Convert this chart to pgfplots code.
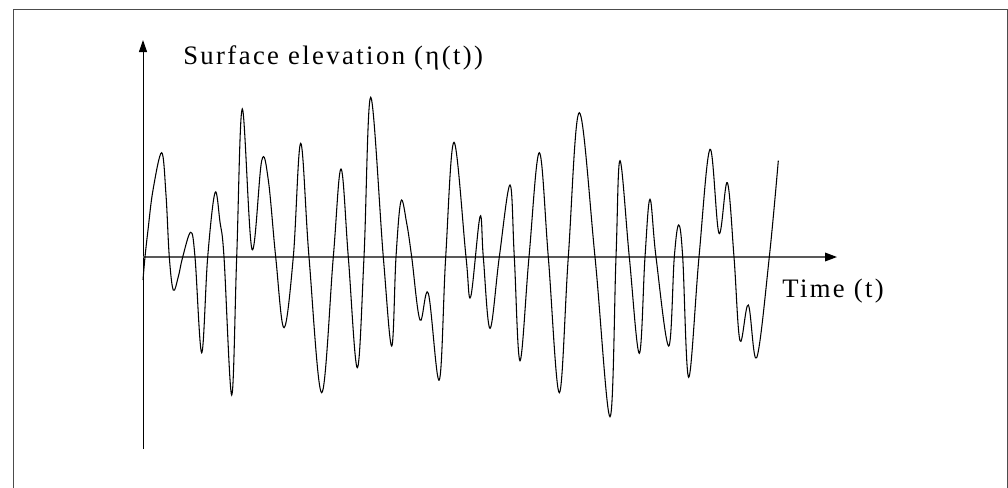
\documentclass[border=0pt]{standalone}
\usepackage{fontspec}
\setmainfont{Liberation Serif}
\newfontfamily\lsfont[LetterSpace=9]{Liberation Serif}
\usepackage{pgfplots}
\pgfplotsset{compat=1.18}
\usetikzlibrary{arrows.meta}
\begin{document}
\begin{tikzpicture}
\begin{axis}[
  width=756pt, height=365.25pt, scale only axis,
  xmin=0, xmax=1008, ymin=0, ymax=487, y dir=reverse,
  hide axis, clip=true,
]
% frame
\addplot[black!70, line width=0.75pt] coordinates {(13,495) (13,9) (1007,9) (1007,495)};
% vertical axis
\addplot[black, line width=0.75pt, -{Triangle[length=9pt,width=6pt]}] coordinates {(143,449) (143,40)};
% horizontal axis
\addplot[black!65, line width=1pt, -{Triangle[length=9pt,width=6.5pt,color=black]}] coordinates {(143,257) (837,257)};
% signal
\addplot[black, line width=0.8pt, smooth, tension=0.6] coordinates {
(143,280) (145,257) (148,230) (153,190) (161.7,152.7) (166,195) (169.3,257)
(173.3,290) (178.3,276.7) (182.7,257) (190.7,232.3) (195,257) (201.7,352.7)
(207.7,257) (215,192.7) (220,222) (224,257) (231.7,395) (236.7,257) (242.3,109)
(252,249.3) (261.7,160.7) (268.3,180) (275.7,257) (284,327.7) (293.3,257)
(300.7,143.3) (309,257) (321.7,392.7) (333.3,257) (341,169) (348.3,257)
(357.3,367.7) (364,257) (370.7,97.3) (383.3,257) (391.7,346) (396,257)
(401,201) (406.7,223.3) (411.7,257) (420,320) (428.3,293.3) (439.3,380)
(445.7,257) (454,142.3) (466,257) (470.7,296.7) (480,216.7) (483.3,257)
(490,328.3) (499.3,257) (510,185) (514.3,257) (520,360.7) (529,257)
(539.3,152.7) (548.3,257) (559.3,392.7) (568.3,257) (579.3,112.7) (595,257)
(610,416.7) (616,257) (620,160.7) (629.3,257) (639.3,353.3) (645,257)
(650,199.3) (656,257) (668.7,346) (674.3,257) (678.7,225) (682.7,257)
(688.7,377.3) (699,257) (710,149.3) (719,233.3) (727.3,182.7) (734,257)
(740,340.7) (748.3,305) (756.7,357.7) (769.3,257) (778.3,160.7)
};
\node[anchor=base west, inner sep=0pt, font=\lsfont\fontsize{20}{24}\selectfont] at (axis cs:183,64) {Surface elevation (η(t))};
\node[anchor=base west, inner sep=0pt, font=\lsfont\fontsize{20}{24}\selectfont] at (axis cs:782,297) {Time (t)};
\end{axis}
\pgfresetboundingbox
\path[use as bounding box] (current axis.south west) rectangle (current axis.north east);
\end{tikzpicture}
\end{document}
